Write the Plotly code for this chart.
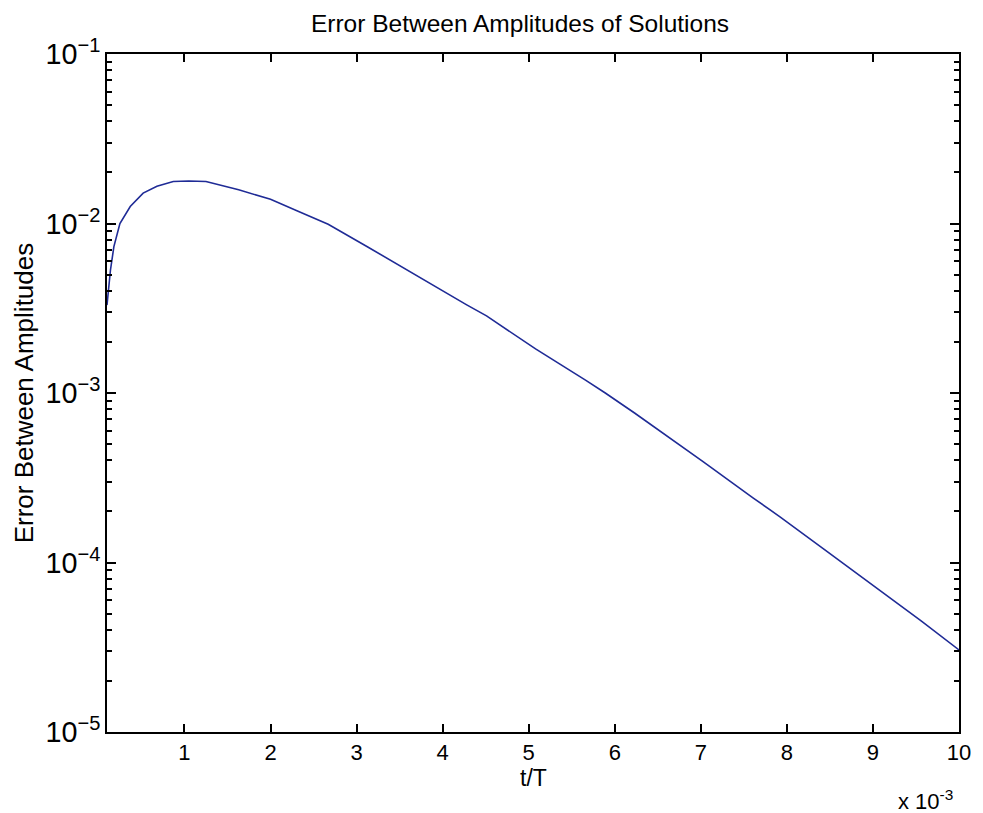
import plotly.graph_objects as go

# Normalised time t/T and the amplitude error between the two solutions
t_over_T = [0.00010, 0.00012, 0.00014, 0.00018, 0.00025, 0.00037, 0.00052, 0.00068,
            0.00087, 0.00105, 0.00125, 0.00163, 0.00200, 0.00232, 0.00267, 0.00313,
            0.00370, 0.00428, 0.00451, 0.00508, 0.00566, 0.00589, 0.00623, 0.00646,
            0.00703, 0.00761, 0.00792, 0.00841, 0.00899, 0.00956, 0.01000]
amp_error = [3.3e-3, 4.3e-3, 5.3e-3, 7.3e-3, 1.00e-2, 1.26e-2, 1.51e-2, 1.66e-2,
             1.77e-2, 1.78e-2, 1.77e-2, 1.58e-2, 1.39e-2, 1.18e-2, 9.9e-3, 7.27e-3,
             4.90e-3, 3.31e-3, 2.85e-3, 1.82e-3, 1.19e-3, 1.00e-3, 7.62e-4, 6.30e-4,
             3.92e-4, 2.40e-4, 1.86e-4, 1.22e-4, 7.4e-5, 4.52e-5, 3.05e-5]

x_tick_vals = [0.001, 0.002, 0.003, 0.004, 0.005, 0.006, 0.007, 0.008, 0.009, 0.010]
x_tick_text = ["1", "2", "3", "4", "5", "6", "7", "8", "9", "10"]

FONT = "Liberation Sans, Arial, sans-serif"

fig = go.Figure()
fig.add_trace(go.Scatter(
    x=t_over_T, y=amp_error, mode="lines",
    line=dict(color="#1f2b96", width=1.6),
    showlegend=False,
))

fig.update_layout(
    width=983, height=813,
    margin=dict(l=107, r=15, t=54, b=81),
    paper_bgcolor="white", plot_bgcolor="white",
    font=dict(family=FONT, size=22, color="black"),
    title=dict(text="Error Between Amplitudes of Solutions",
               x=520 / 983, xanchor="center",
               y=1 - 23 / 813, yanchor="middle", yref="container",
               font=dict(size=24.5, family=FONT, color="black")),
)

fig.update_xaxes(
    range=[0.0001, 0.010],
    tickmode="array", tickvals=x_tick_vals, ticktext=x_tick_text,
    ticks="inside", ticklen=8, tickwidth=2, tickcolor="black",
    showline=True, linecolor="black", linewidth=2, mirror="ticks",
    showgrid=False, zeroline=False,
    tickfont=dict(size=22, family=FONT),
)

fig.update_yaxes(
    type="log", range=[-5, -1],
    tick0=0, dtick=1, exponentformat="power",
    ticks="inside", ticklen=9, tickwidth=2, tickcolor="black",
    minor=dict(ticks="inside", ticklen=5, tickwidth=1.5, tickcolor="black",
               dtick="D1", showgrid=False),
    showline=True, linecolor="black", linewidth=2, mirror="ticks",
    showgrid=False, zeroline=False,
    tickfont=dict(size=23, family=FONT),
)

# Axis titles and the x-axis multiplier
fig.add_annotation(text="Error Between Amplitudes", textangle=-90,
                   xref="paper", yref="paper", x=-0.097, y=0.5,
                   xanchor="center", yanchor="middle", showarrow=False,
                   font=dict(size=26, family=FONT))
fig.add_annotation(text="t/T", xref="paper", yref="paper", x=0.5, y=-0.068,
                   xanchor="center", yanchor="middle", showarrow=False,
                   font=dict(size=23, family=FONT))
fig.add_annotation(text="x 10<sup>-3</sup>", xref="paper", yref="paper",
                   x=0.995, y=-0.1, xanchor="right", yanchor="middle",
                   showarrow=False, font=dict(size=22, family=FONT))

fig.write_html("out.html")
